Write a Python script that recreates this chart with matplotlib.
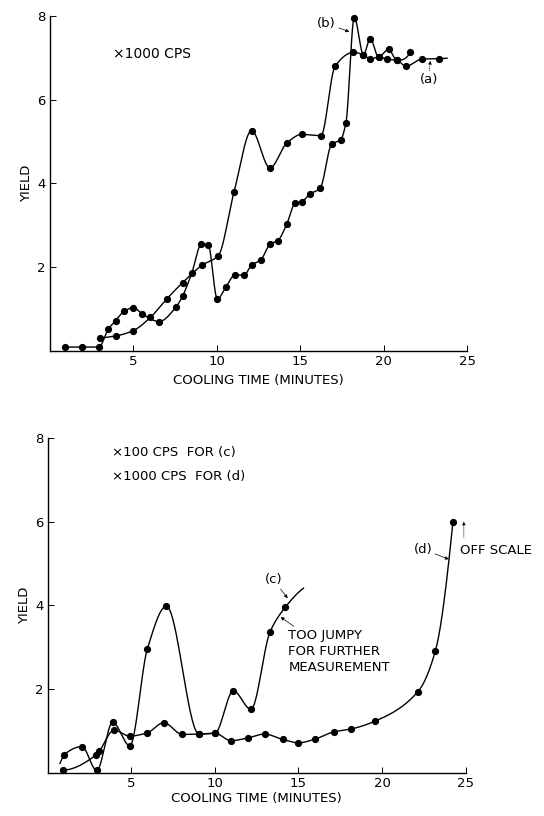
import numpy as np
import matplotlib
matplotlib.use("Agg")
import matplotlib.pyplot as plt

plt.rcParams['font.family'] = ['DejaVu Sans']

# ---- top panel: curves (a) and (b), yield x1000 cps ----
a_x = [3.0, 4.0, 5.0, 6.04, 7.02, 7.97, 9.15, 10.1, 11.05, 12.1, 13.2, 14.2, 15.1,
       16.25, 17.1, 18.2, 18.8, 19.2, 19.7, 20.2, 20.8, 21.35, 22.3, 23.3]
a_y = [0.31, 0.36, 0.48, 0.80, 1.24, 1.63, 2.05, 2.27, 3.80, 5.26, 4.37, 4.96, 5.17,
       5.14, 6.80, 7.13, 7.07, 6.97, 7.02, 6.97, 6.94, 6.80, 6.97, 6.98]
a_tail = (23.8, 6.99)

b_x = [0.93, 1.96, 2.96, 3.52, 3.96, 4.48, 5.02, 5.56, 6.56, 7.56, 7.97, 8.51, 9.1,
       9.5, 10.05, 10.57, 11.1, 11.65, 12.1, 12.65, 13.2, 13.66, 14.2, 14.7, 15.1,
       15.6, 16.2, 16.9, 17.43, 17.75, 18.25, 18.8, 19.2, 19.7, 20.3, 20.8, 21.6]
b_y = [0.09, 0.09, 0.09, 0.52, 0.72, 0.95, 1.03, 0.88, 0.70, 1.04, 1.31, 1.85, 2.55,
       2.53, 1.24, 1.53, 1.81, 1.81, 2.05, 2.17, 2.55, 2.63, 3.02, 3.52, 3.56,
       3.75, 3.88, 4.94, 5.04, 5.45, 7.96, 7.07, 7.46, 7.02, 7.20, 6.94, 7.13]

# ---- bottom panel: curves (c) x100 cps and (d) x1000 cps ----
c_x = [0.96, 2.03, 2.92, 3.87, 4.9, 5.95, 7.09, 9.04, 10.0, 11.1, 12.15, 13.3, 14.2]
c_y = [0.43, 0.63, 0.06, 1.21, 0.65, 2.96, 3.98, 0.93, 0.95, 1.96, 1.52, 3.37, 3.95]
c_lead = (0.72, 0.23)
c_tail = (15.3, 4.41)

d_x = [0.9, 2.85, 3.07, 3.95, 4.9, 5.95, 6.93, 8.05, 9.04, 10.0, 10.96, 12.0, 12.97,
       14.05, 15.0, 16.0, 17.1, 18.15, 19.6, 22.15, 23.2, 24.25]
d_y = [0.07, 0.42, 0.52, 1.02, 0.88, 0.96, 1.20, 0.92, 0.93, 0.95, 0.77, 0.84, 0.93,
       0.80, 0.72, 0.81, 0.98, 1.05, 1.24, 1.94, 2.92, 6.0]

x_ticks = [5, 10, 15, 20, 25]
y_ticks = [2, 4, 6, 8]


def end_slope(h0, h1, m0, m1):
    d = ((2 * h0 + h1) * m0 - h0 * m1) / (h0 + h1)
    if np.sign(d) != np.sign(m0):
        return 0.0
    if np.sign(m0) != np.sign(m1) and abs(d) > abs(3 * m0):
        return 3 * m0
    return d


def smooth(x, y, per_seg=40):
    # monotone cubic (pchip) through the measured points, like a french curve
    x = np.asarray(x, float)
    y = np.asarray(y, float)
    h = np.diff(x)
    d = np.diff(y) / h
    m = np.zeros_like(y)
    for k in range(1, len(x) - 1):
        if d[k - 1] * d[k] > 0:
            w1 = 2 * h[k] + h[k - 1]
            w2 = h[k] + 2 * h[k - 1]
            m[k] = (w1 + w2) / (w1 / d[k - 1] + w2 / d[k])
    m[0] = end_slope(h[0], h[1], d[0], d[1])
    m[-1] = end_slope(h[-1], h[-2], d[-1], d[-2])
    t = np.linspace(0, 1, per_seg)
    h00 = 2 * t**3 - 3 * t**2 + 1
    h10 = t**3 - 2 * t**2 + t
    h01 = -2 * t**3 + 3 * t**2
    h11 = t**3 - t**2
    xs, ys = [], []
    for k in range(len(h)):
        xs.append(x[k] + t * h[k])
        ys.append(h00 * y[k] + h10 * h[k] * m[k] + h01 * y[k + 1] + h11 * h[k] * m[k + 1])
    return np.concatenate(xs), np.concatenate(ys)


def draw_curve(ax, x, y, lead=None, tail=None):
    lx, ly = list(x), list(y)
    if lead:
        lx, ly = [lead[0]] + lx, [lead[1]] + ly
    if tail:
        lx, ly = lx + [tail[0]], ly + [tail[1]]
    sx, sy = smooth(lx, ly)
    ax.plot(sx, sy, color='black', lw=1.0, clip_on=False)
    ax.plot(x, y, 'o', color='black', ms=4.2, clip_on=False)


def style_axes(ax, xpad):
    ax.set_xlim(0, 25)
    ax.set_ylim(0, 8)
    ax.spines['top'].set_visible(False)
    ax.spines['right'].set_visible(False)
    ax.spines['left'].set_linewidth(1.0)
    ax.spines['bottom'].set_linewidth(1.0)
    ax.set_xticks(x_ticks)
    ax.set_yticks(y_ticks)
    ax.tick_params(direction='in', length=4, width=0.7, labelsize=9.5, pad=3)
    ax.set_xlabel('COOLING TIME (MINUTES)', fontsize=9.5, labelpad=xpad)
    ax.set_ylabel('YIELD', fontsize=9.5, labelpad=3)


arrow = dict(arrowstyle='-|>', lw=0.5, color='black', mutation_scale=5,
             shrinkA=0, shrinkB=0)

fig = plt.figure(figsize=(5.44, 8.16), dpi=100)

# top chart
ax1 = fig.add_axes([0.091, 0.570, 0.7675, 0.4105])
style_axes(ax1, 4)
draw_curve(ax1, a_x, a_y, tail=a_tail)
draw_curve(ax1, b_x, b_y)
ax1.text(3.8, 7.09, '×1000 CPS', fontsize=10, va='center', ha='left')
ax1.annotate('(b)', xy=(17.95, 7.62), xytext=(16.6, 7.82), fontsize=9.5,
             ha='center', va='center', arrowprops=arrow)
ax1.annotate('(a)', xy=(22.8, 6.93), xytext=(22.7, 6.47), fontsize=9.5,
             ha='center', va='center',
             arrowprops=dict(arrow, linestyle=':'))

# bottom chart
ax2 = fig.add_axes([0.0882, 0.0527, 0.7675, 0.4109])
style_axes(ax2, 1.5)
draw_curve(ax2, c_x, c_y, lead=c_lead, tail=c_tail)
draw_curve(ax2, d_x, d_y)
ax2.text(3.85, 7.64, '×100 CPS  FOR (c)', fontsize=9.5, va='center', ha='left')
ax2.text(3.85, 7.07, '×1000 CPS  FOR (d)', fontsize=9.5, va='center', ha='left')
ax2.annotate('(c)', xy=(14.35, 4.17), xytext=(13.5, 4.61), fontsize=9.5,
             ha='center', va='center', arrowprops=arrow)
ax2.annotate('', xy=(13.93, 3.72), xytext=(14.72, 3.50), arrowprops=arrow)
ax2.text(14.4, 3.43, 'TOO JUMPY\nFOR FURTHER\nMEASUREMENT', fontsize=9.5,
         ha='left', va='top', linespacing=1.3)
ax2.annotate('(d)', xy=(24.0, 5.1), xytext=(22.45, 5.34), fontsize=9.5,
             ha='center', va='center', arrowprops=arrow)
ax2.text(24.7, 5.32, 'OFF SCALE', fontsize=9.5, ha='left', va='center')
ax2.annotate('', xy=(24.9, 6.0), xytext=(24.9, 5.62),
             arrowprops=dict(arrow, linestyle=':'))

fig.savefig('out.png', dpi=100, facecolor='white')
